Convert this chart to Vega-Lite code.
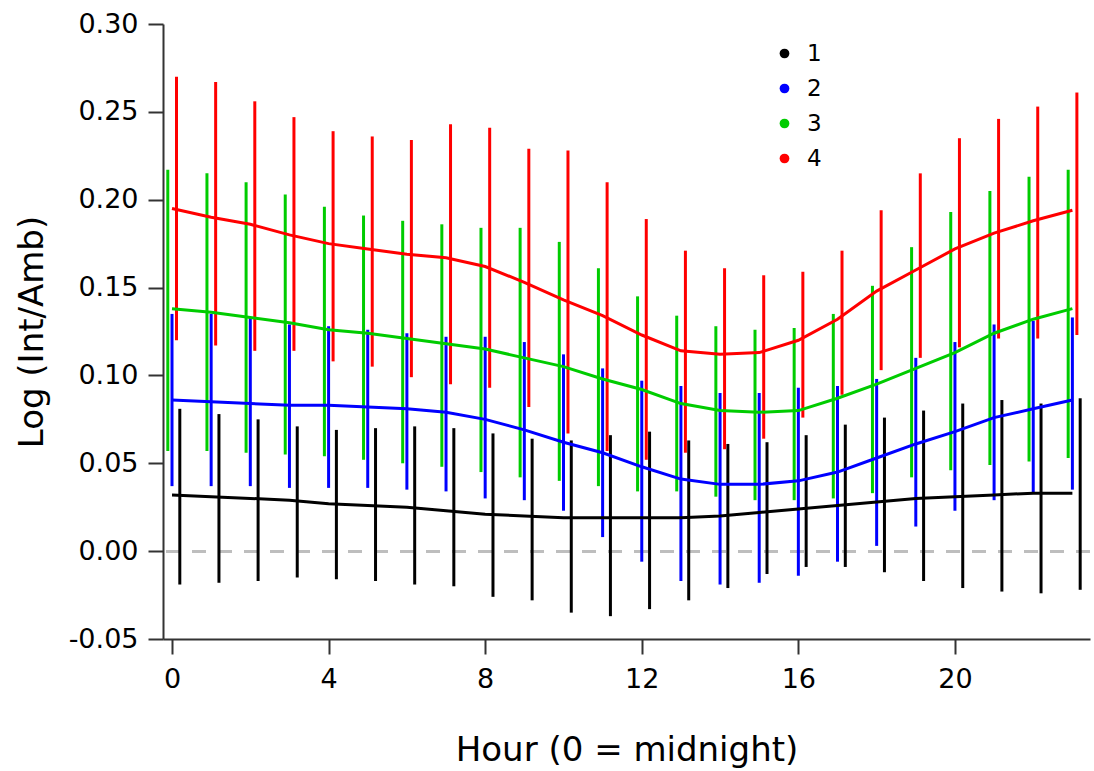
{
  "$schema": "https://vega.github.io/schema/vega-lite/v6.json",
  "autosize": {"type": "none"},
  "padding": {"left": 163, "top": 24, "right": 4, "bottom": 132},
  "width": 927,
  "height": 615,
  "background": "white",
  "datasets": {
    "d": [
      {"hour":0,"group":1,"mean":0.032,"lo":-0.019,"hi":0.081},
      {"hour":1,"group":1,"mean":0.031,"lo":-0.018,"hi":0.078},
      {"hour":2,"group":1,"mean":0.030,"lo":-0.017,"hi":0.075},
      {"hour":3,"group":1,"mean":0.029,"lo":-0.015,"hi":0.071},
      {"hour":4,"group":1,"mean":0.027,"lo":-0.016,"hi":0.069},
      {"hour":5,"group":1,"mean":0.026,"lo":-0.017,"hi":0.070},
      {"hour":6,"group":1,"mean":0.025,"lo":-0.019,"hi":0.071},
      {"hour":7,"group":1,"mean":0.023,"lo":-0.020,"hi":0.070},
      {"hour":8,"group":1,"mean":0.021,"lo":-0.026,"hi":0.067},
      {"hour":9,"group":1,"mean":0.020,"lo":-0.028,"hi":0.064},
      {"hour":10,"group":1,"mean":0.019,"lo":-0.035,"hi":0.063},
      {"hour":11,"group":1,"mean":0.019,"lo":-0.037,"hi":0.066},
      {"hour":12,"group":1,"mean":0.019,"lo":-0.033,"hi":0.068},
      {"hour":13,"group":1,"mean":0.019,"lo":-0.028,"hi":0.063},
      {"hour":14,"group":1,"mean":0.020,"lo":-0.021,"hi":0.061},
      {"hour":15,"group":1,"mean":0.022,"lo":-0.013,"hi":0.062},
      {"hour":16,"group":1,"mean":0.024,"lo":-0.009,"hi":0.066},
      {"hour":17,"group":1,"mean":0.026,"lo":-0.009,"hi":0.072},
      {"hour":18,"group":1,"mean":0.028,"lo":-0.012,"hi":0.076},
      {"hour":19,"group":1,"mean":0.030,"lo":-0.017,"hi":0.080},
      {"hour":20,"group":1,"mean":0.031,"lo":-0.021,"hi":0.084},
      {"hour":21,"group":1,"mean":0.032,"lo":-0.023,"hi":0.086},
      {"hour":22,"group":1,"mean":0.033,"lo":-0.024,"hi":0.084},
      {"hour":23,"group":1,"mean":0.033,"lo":-0.022,"hi":0.087},
      {"hour":0,"group":2,"mean":0.086,"lo":0.037,"hi":0.135},
      {"hour":1,"group":2,"mean":0.085,"lo":0.037,"hi":0.135},
      {"hour":2,"group":2,"mean":0.084,"lo":0.037,"hi":0.133},
      {"hour":3,"group":2,"mean":0.083,"lo":0.036,"hi":0.129},
      {"hour":4,"group":2,"mean":0.083,"lo":0.036,"hi":0.128},
      {"hour":5,"group":2,"mean":0.082,"lo":0.036,"hi":0.126},
      {"hour":6,"group":2,"mean":0.081,"lo":0.035,"hi":0.124},
      {"hour":7,"group":2,"mean":0.079,"lo":0.034,"hi":0.122},
      {"hour":8,"group":2,"mean":0.075,"lo":0.030,"hi":0.122},
      {"hour":9,"group":2,"mean":0.069,"lo":0.029,"hi":0.119},
      {"hour":10,"group":2,"mean":0.062,"lo":0.023,"hi":0.112},
      {"hour":11,"group":2,"mean":0.056,"lo":0.008,"hi":0.104},
      {"hour":12,"group":2,"mean":0.048,"lo":-0.006,"hi":0.097},
      {"hour":13,"group":2,"mean":0.041,"lo":-0.017,"hi":0.094},
      {"hour":14,"group":2,"mean":0.038,"lo":-0.019,"hi":0.090},
      {"hour":15,"group":2,"mean":0.038,"lo":-0.018,"hi":0.090},
      {"hour":16,"group":2,"mean":0.040,"lo":-0.014,"hi":0.093},
      {"hour":17,"group":2,"mean":0.045,"lo":-0.006,"hi":0.094},
      {"hour":18,"group":2,"mean":0.053,"lo":0.003,"hi":0.098},
      {"hour":19,"group":2,"mean":0.061,"lo":0.014,"hi":0.110},
      {"hour":20,"group":2,"mean":0.068,"lo":0.023,"hi":0.119},
      {"hour":21,"group":2,"mean":0.076,"lo":0.029,"hi":0.129},
      {"hour":22,"group":2,"mean":0.081,"lo":0.033,"hi":0.131},
      {"hour":23,"group":2,"mean":0.086,"lo":0.035,"hi":0.133},
      {"hour":0,"group":3,"mean":0.138,"lo":0.057,"hi":0.217},
      {"hour":1,"group":3,"mean":0.136,"lo":0.057,"hi":0.215},
      {"hour":2,"group":3,"mean":0.133,"lo":0.056,"hi":0.210},
      {"hour":3,"group":3,"mean":0.130,"lo":0.055,"hi":0.203},
      {"hour":4,"group":3,"mean":0.126,"lo":0.054,"hi":0.196},
      {"hour":5,"group":3,"mean":0.124,"lo":0.052,"hi":0.191},
      {"hour":6,"group":3,"mean":0.121,"lo":0.050,"hi":0.188},
      {"hour":7,"group":3,"mean":0.118,"lo":0.048,"hi":0.186},
      {"hour":8,"group":3,"mean":0.115,"lo":0.045,"hi":0.184},
      {"hour":9,"group":3,"mean":0.110,"lo":0.042,"hi":0.184},
      {"hour":10,"group":3,"mean":0.105,"lo":0.040,"hi":0.176},
      {"hour":11,"group":3,"mean":0.098,"lo":0.037,"hi":0.161},
      {"hour":12,"group":3,"mean":0.092,"lo":0.034,"hi":0.145},
      {"hour":13,"group":3,"mean":0.084,"lo":0.034,"hi":0.134},
      {"hour":14,"group":3,"mean":0.080,"lo":0.031,"hi":0.128},
      {"hour":15,"group":3,"mean":0.079,"lo":0.029,"hi":0.126},
      {"hour":16,"group":3,"mean":0.080,"lo":0.029,"hi":0.127},
      {"hour":17,"group":3,"mean":0.087,"lo":0.030,"hi":0.135},
      {"hour":18,"group":3,"mean":0.095,"lo":0.033,"hi":0.151},
      {"hour":19,"group":3,"mean":0.104,"lo":0.042,"hi":0.173},
      {"hour":20,"group":3,"mean":0.113,"lo":0.046,"hi":0.193},
      {"hour":21,"group":3,"mean":0.124,"lo":0.049,"hi":0.205},
      {"hour":22,"group":3,"mean":0.132,"lo":0.051,"hi":0.213},
      {"hour":23,"group":3,"mean":0.138,"lo":0.053,"hi":0.217},
      {"hour":0,"group":4,"mean":0.195,"lo":0.120,"hi":0.270},
      {"hour":1,"group":4,"mean":0.190,"lo":0.117,"hi":0.267},
      {"hour":2,"group":4,"mean":0.186,"lo":0.114,"hi":0.256},
      {"hour":3,"group":4,"mean":0.180,"lo":0.114,"hi":0.247},
      {"hour":4,"group":4,"mean":0.175,"lo":0.108,"hi":0.239},
      {"hour":5,"group":4,"mean":0.172,"lo":0.105,"hi":0.236},
      {"hour":6,"group":4,"mean":0.169,"lo":0.099,"hi":0.234},
      {"hour":7,"group":4,"mean":0.167,"lo":0.095,"hi":0.243},
      {"hour":8,"group":4,"mean":0.162,"lo":0.093,"hi":0.241},
      {"hour":9,"group":4,"mean":0.153,"lo":0.082,"hi":0.229},
      {"hour":10,"group":4,"mean":0.143,"lo":0.067,"hi":0.228},
      {"hour":11,"group":4,"mean":0.134,"lo":0.057,"hi":0.210},
      {"hour":12,"group":4,"mean":0.123,"lo":0.052,"hi":0.189},
      {"hour":13,"group":4,"mean":0.114,"lo":0.056,"hi":0.171},
      {"hour":14,"group":4,"mean":0.112,"lo":0.058,"hi":0.161},
      {"hour":15,"group":4,"mean":0.113,"lo":0.064,"hi":0.157},
      {"hour":16,"group":4,"mean":0.120,"lo":0.076,"hi":0.159},
      {"hour":17,"group":4,"mean":0.132,"lo":0.089,"hi":0.171},
      {"hour":18,"group":4,"mean":0.148,"lo":0.103,"hi":0.194},
      {"hour":19,"group":4,"mean":0.160,"lo":0.110,"hi":0.215},
      {"hour":20,"group":4,"mean":0.172,"lo":0.116,"hi":0.235},
      {"hour":21,"group":4,"mean":0.181,"lo":0.121,"hi":0.246},
      {"hour":22,"group":4,"mean":0.188,"lo":0.121,"hi":0.253},
      {"hour":23,"group":4,"mean":0.194,"lo":0.123,"hi":0.261}
    ]
  },
  "data": {"name": "d"},
  "layer": [
    {
      "mark": {"type": "rule", "color": "#BEBEBE", "strokeDash": [14, 12], "strokeWidth": 2.5},
      "encoding": {
        "y": {"datum": 0, "type": "quantitative", "title": "Log (Int/Amb)"}
      }
    },
    {
      "transform": [{"filter": "datum.group == 1"}],
      "mark": {"type": "rule", "strokeWidth": 3, "xOffset": 7.8},
      "encoding": {
        "x": {"field": "hour", "type": "quantitative", "title": "Hour (0 = midnight)"},
        "y": {"field": "lo", "type": "quantitative", "title": "Log (Int/Amb)"},
        "y2": {"field": "hi"},
        "color": {"field": "group", "type": "nominal",
          "legend": {"orient": "none", "legendX": 610, "legendY": 18, "title": null,
            "symbolType": "circle", "symbolSize": 95, "labelFont": "DejaVu Sans", "labelFontSize": 23,
            "labelColor": "#000", "labelOffset": 11, "rowPadding": 11, "padding": 0, "symbolStrokeWidth": 0,
            "encode": {"symbols": {"update": {"fill": {"scale": "color", "field": "value"}, "fillOpacity": {"value": 1}}}}}}
      }
    },
    {
      "transform": [{"filter": "datum.group == 2"}],
      "mark": {"type": "rule", "strokeWidth": 3, "xOffset": 0},
      "encoding": {
        "x": {"field": "hour", "type": "quantitative", "title": "Hour (0 = midnight)"},
        "y": {"field": "lo", "type": "quantitative", "title": "Log (Int/Amb)"},
        "y2": {"field": "hi"},
        "color": {"field": "group", "type": "nominal"}
      }
    },
    {
      "transform": [{"filter": "datum.group == 3"}],
      "mark": {"type": "rule", "strokeWidth": 3, "xOffset": -4.2},
      "encoding": {
        "x": {"field": "hour", "type": "quantitative", "title": "Hour (0 = midnight)"},
        "y": {"field": "lo", "type": "quantitative", "title": "Log (Int/Amb)"},
        "y2": {"field": "hi"},
        "color": {"field": "group", "type": "nominal"}
      }
    },
    {
      "transform": [{"filter": "datum.group == 4"}],
      "mark": {"type": "rule", "strokeWidth": 3, "xOffset": 4.5},
      "encoding": {
        "x": {"field": "hour", "type": "quantitative", "title": "Hour (0 = midnight)"},
        "y": {"field": "lo", "type": "quantitative", "title": "Log (Int/Amb)"},
        "y2": {"field": "hi"},
        "color": {"field": "group", "type": "nominal"}
      }
    },
    {
      "mark": {"type": "line", "strokeWidth": 3},
      "encoding": {
        "x": {"field": "hour", "type": "quantitative", "title": "Hour (0 = midnight)",
          "scale": {"domain": [-0.23, 23.45], "nice": false, "zero": false},
          "axis": {"values": [0, 4, 8, 12, 16, 20], "grid": false, "domainColor": "#333333", "domainWidth": 2,
            "tickColor": "#333333", "tickWidth": 2, "tickSize": 15, "labelFont": "DejaVu Sans", "labelFontSize": 27,
            "labelColor": "#000000", "labelPadding": 12, "titleColor": "#000000", "titleFontWeight": "normal",
            "titleFont": "DejaVu Sans", "titleFontSize": 34, "titleX": 463.5, "titleY": 121, "titleAlign": "center",
            "titleBaseline": "alphabetic"}},
        "y": {"field": "mean", "type": "quantitative", "title": "Log (Int/Amb)",
          "scale": {"domain": [-0.05, 0.30], "nice": false, "zero": false},
          "axis": {"values": [-0.05, 0, 0.05, 0.1, 0.15, 0.2, 0.25, 0.3], "grid": false, "domainColor": "#333333",
            "domainWidth": 2, "tickColor": "#333333", "tickWidth": 2, "tickSize": 15, "labelFont": "DejaVu Sans",
            "labelFontSize": 27, "labelColor": "#000000", "labelPadding": 10,
            "labelExpr": "datum.value < 0 ? '-' + format(-datum.value, '.2f') : format(datum.value, '.2f')",
            "titleColor": "#000000", "titleFontWeight": "normal", "titleFont": "DejaVu Sans", "titleFontSize": 34,
            "titleX": -131, "titleY": 307.5, "titleAngle": 270, "titleAlign": "center", "titleBaseline": "middle"}},
        "color": {"field": "group", "type": "nominal"}
      }
    }
  ],
  "config": {
    "view": {"stroke": null},
    "range": {"category": ["#000000", "#0000FF", "#00CC00", "#FF0000"]}
  }
}
